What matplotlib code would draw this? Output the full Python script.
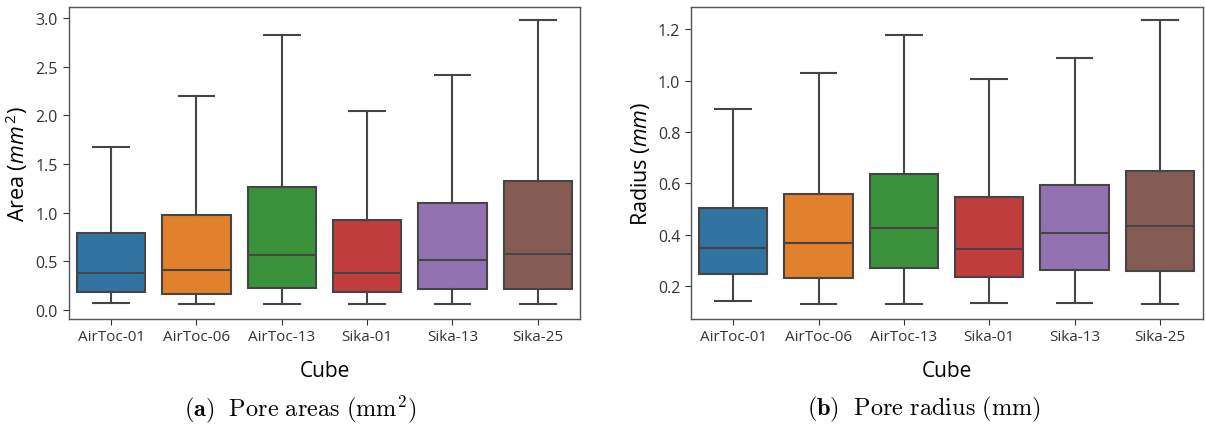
import matplotlib
matplotlib.use("Agg")
import matplotlib.pyplot as plt

categories = ["AirToc-01", "AirToc-06", "AirToc-13", "Sika-01", "Sika-13", "Sika-25"]

area_whislo = [0.072, 0.062, 0.062, 0.062, 0.062, 0.062]
area_q1     = [0.188, 0.168, 0.229, 0.182, 0.213, 0.213]
area_med    = [0.377, 0.414, 0.565, 0.377, 0.511, 0.579]
area_q3     = [0.788, 0.979, 1.264, 0.925, 1.103, 1.326]
area_whishi = [1.678, 2.196, 2.826, 2.042, 2.412, 2.977]

rad_whislo = [0.144, 0.131, 0.131, 0.135, 0.135, 0.131]
rad_q1     = [0.248, 0.234, 0.270, 0.237, 0.263, 0.259]
rad_med    = [0.350, 0.367, 0.425, 0.346, 0.407, 0.433]
rad_q3     = [0.505, 0.560, 0.636, 0.546, 0.595, 0.648]
rad_whishi = [0.890, 1.030, 1.177, 1.006, 1.086, 1.234]

colors = ["#3274a1", "#e1812c", "#3a923a", "#c03d3e", "#9372b2", "#845b53"]
line_color = "#454545"

plt.rcParams['font.family'] = ['Open Sans', 'DejaVu Sans']
plt.rcParams['mathtext.fontset'] = 'custom'
plt.rcParams['mathtext.rm'] = 'Open Sans'
plt.rcParams['mathtext.it'] = 'Open Sans:italic'

fig = plt.figure(figsize=(12.06, 4.35), dpi=100)
ax1 = fig.add_axes([0.0568, 0.2644, 0.4245, 0.7172])
ax2 = fig.add_axes([0.5726, 0.2644, 0.4245, 0.7172])


def draw(ax, lo, q1, med, q3, hi):
    stats = []
    for i, lab in enumerate(categories):
        stats.append(dict(label=lab, whislo=lo[i], q1=q1[i], med=med[i],
                          q3=q3[i], whishi=hi[i], fliers=[]))
    bp = ax.bxp(stats, positions=range(len(categories)), widths=0.8,
                capwidths=0.42, patch_artist=True, showfliers=False,
                boxprops=dict(edgecolor=line_color, linewidth=1.5),
                whiskerprops=dict(color=line_color, linewidth=1.5),
                capprops=dict(color=line_color, linewidth=1.5),
                medianprops=dict(color=line_color, linewidth=1.5))
    for patch, c in zip(bp['boxes'], colors):
        patch.set_facecolor(c)
    ax.set_xlim(-0.5, len(categories) - 0.5)
    ax.set_xticks(range(len(categories)))
    ax.set_xticklabels(categories, fontsize=11)
    ax.tick_params(axis='y', labelsize=11.5)
    ax.tick_params(colors='#333333', length=4)
    for sp in ax.spines.values():
        sp.set_color('#555555')
        sp.set_linewidth(1.0)
    ax.set_xlabel("Cube", fontsize=15, labelpad=11)


draw(ax1, area_whislo, area_q1, area_med, area_q3, area_whishi)
draw(ax2, rad_whislo, rad_q1, rad_med, rad_q3, rad_whishi)

ax1.set_ylim(-0.092, 3.114)
ax1.set_yticks([0.0, 0.5, 1.0, 1.5, 2.0, 2.5, 3.0])
ax1.set_ylabel(r"Area ($mm^{\,2}$)", fontsize=15.5)

ax2.set_ylim(0.073, 1.286)
ax2.set_yticks([0.2, 0.4, 0.6, 0.8, 1.0, 1.2])
ax2.set_ylabel(r"Radius ($mm$)", fontsize=15.5)

fig.text(300 / 1206, 26 / 435, r"$\mathbf{(a)}\ \ \mathrm{Pore\ areas\ (mm^2)}$",
         ha='center', va='center', fontsize=17.5, math_fontfamily='cm')
fig.text(924 / 1206, 26 / 435, r"$\mathbf{(b)}\ \ \mathrm{Pore\ radius\ (mm)}$",
         ha='center', va='center', fontsize=17.5, math_fontfamily='cm')

fig.savefig("out.png", dpi=100)
